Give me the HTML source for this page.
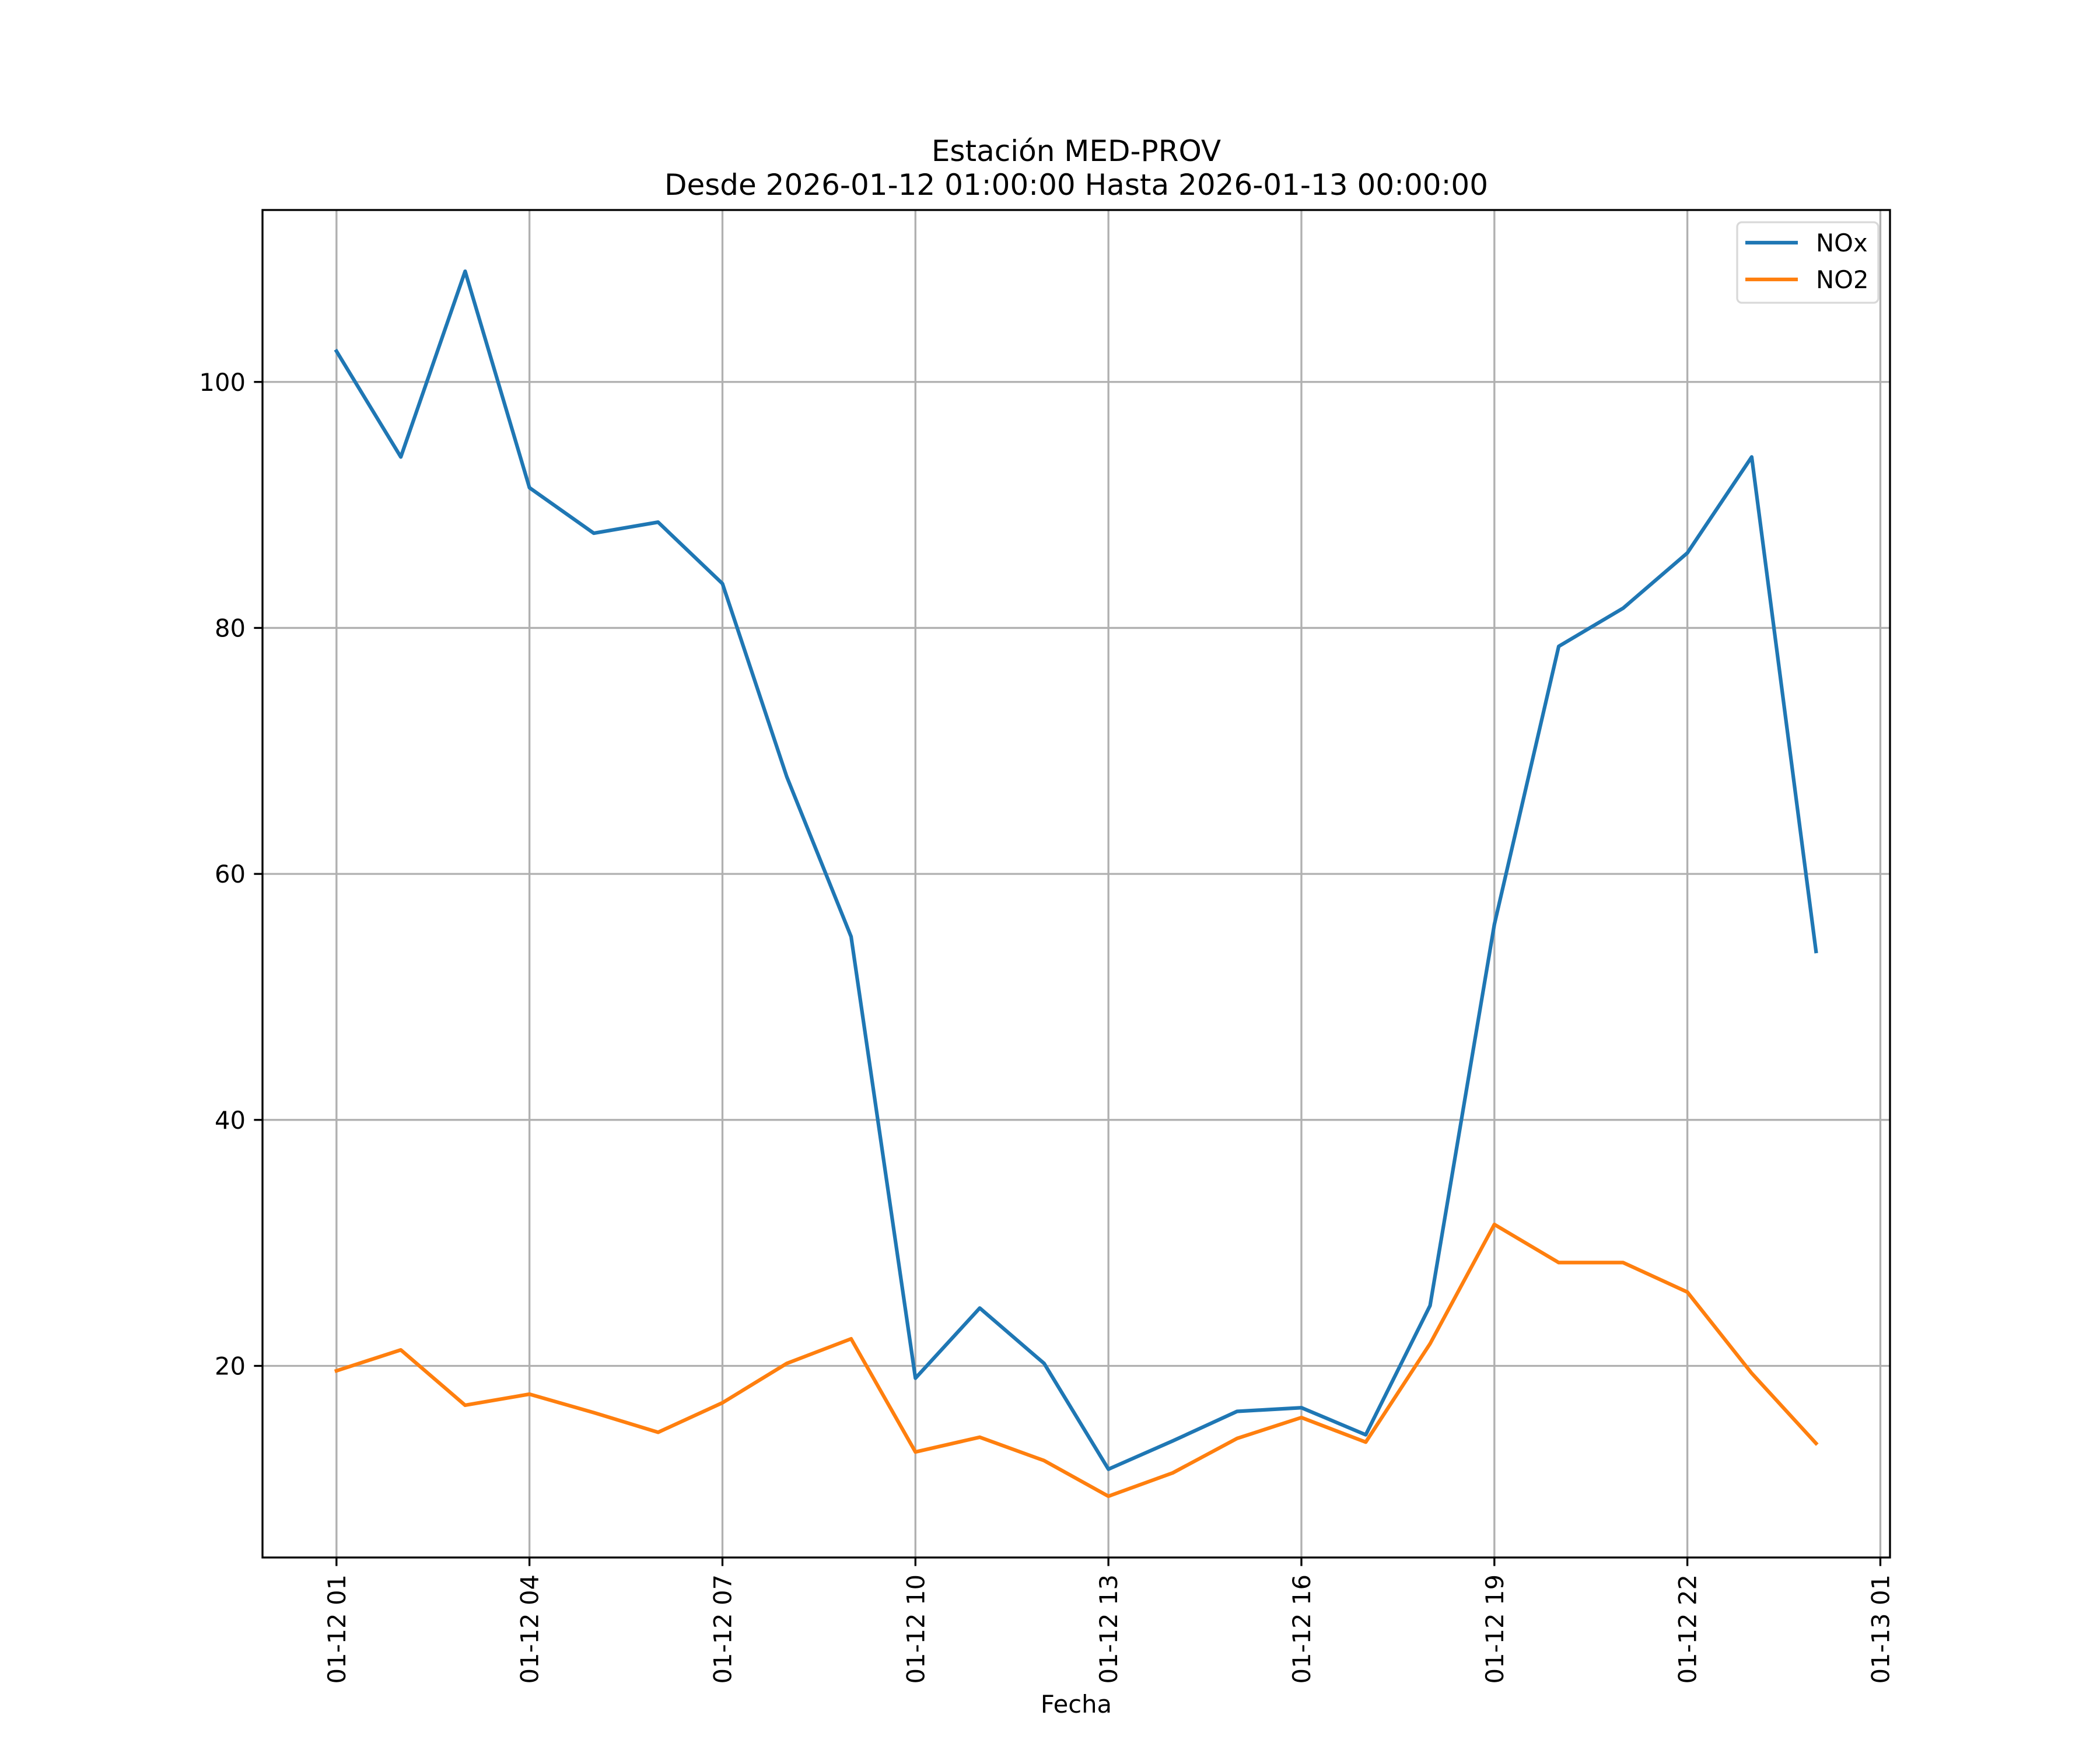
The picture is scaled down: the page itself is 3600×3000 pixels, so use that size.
<!DOCTYPE html>
<html><head><meta charset="utf-8"><style>
html,body{margin:0;padding:0;background:#fff}
svg{display:block}
text{font-family:"DejaVu Sans","Liberation Sans",sans-serif;fill:#000}
</style></head><body>
<svg id="chart" width="3600" height="3000" viewBox="0 0 3600 3000" xmlns="http://www.w3.org/2000/svg">
<rect width="3600" height="3000" fill="#fff"/>
<text x="1845" y="276" font-size="50" text-anchor="middle">Estación MED-PROV</text>
<text x="1845" y="334" font-size="50" text-anchor="middle">Desde 2026-01-12 01:00:00 Hasta 2026-01-13 00:00:00</text>
<g id="grid"></g>
<g id="series"></g>
<rect x="450" y="360" width="2790" height="2310" fill="none" stroke="#000" stroke-width="3.33"/>
<g id="ticks"></g>
<text x="1845" y="2936" font-size="41.7" text-anchor="middle">Fecha</text>
<g>
<rect x="2978" y="381" width="242" height="138" rx="8" fill="#fff" fill-opacity="0.8" stroke="#d9d9d9" stroke-width="3.3"/>
<line x1="2992" y1="416" x2="3082" y2="416" stroke="#1f77b4" stroke-width="6.25"/>
<text x="3113" y="431" font-size="41.7">NOx</text>
<line x1="2992" y1="479" x2="3082" y2="479" stroke="#ff7f0e" stroke-width="6.25"/>
<text x="3113" y="494" font-size="41.7">NO2</text>
</g>
</svg>
<script>
const hours = [1,2,3,4,5,6,7,8,9,10,11,12,13,14,15,16,17,18,19,20,21,22,23,24];
const noxValues = [102.5,93.9,109.0,91.4,87.7,88.6,83.6,67.9,54.9,19.0,24.7,20.2,11.6,13.9,16.3,16.6,14.4,24.9,55.9,78.5,81.6,86.1,93.9,53.7];
const no2Values = [19.6,21.3,16.8,17.7,16.2,14.6,17.0,20.2,22.2,13.0,14.2,12.3,9.4,11.3,14.1,15.8,13.8,21.8,31.5,28.4,28.4,26.0,19.4,13.7];
const xTickHours = [1,4,7,10,13,16,19,22,25];
const xTickLabels = ["01-12 01","01-12 04","01-12 07","01-12 10","01-12 13","01-12 16","01-12 19","01-12 22","01-13 01"];
const yTicks = [20,40,60,80,100];

const L=450,R=3240,T=360,B=2670;
const allV = noxValues.concat(no2Values);
const vmin=Math.min(...allV), vmax=Math.max(...allV);
const ymin=vmin-(vmax-vmin)*0.05, ymax=vmax+(vmax-vmin)*0.05;
const hmin=hours[0], hmax=hours[hours.length-1];
const xlo=hmin-(hmax-hmin)*0.05, xhi=hmax+(hmax-hmin)*0.05;
const X=h=>L+(h-xlo)/(xhi-xlo)*(R-L);
const Y=v=>B-(v-ymin)/(ymax-ymin)*(B-T);
const NS="http://www.w3.org/2000/svg";
function mk(tag,attrs,parent){const e=document.createElementNS(NS,tag);for(const k in attrs)e.setAttribute(k,attrs[k]);parent.appendChild(e);return e;}
const grid=document.getElementById('grid'),ticks=document.getElementById('ticks'),series=document.getElementById('series');

xTickHours.forEach((h,i)=>{
  const x=X(h);
  const g=mk('line',{x1:x,y1:T,x2:x,y2:B,stroke:'#b0b0b0','stroke-width':3.33},grid);
  
  
  const t=mk('line',{x1:x,y1:B,x2:x,y2:B+14.6,stroke:'#000','stroke-width':3.33},ticks);
  
  
  const lb=mk('text',{x:0,y:0,'font-size':41.7,'text-anchor':'end',transform:`translate(${x+15},${B+29}) rotate(-90)`},ticks);
  lb.textContent=xTickLabels[i];
  
  
});
yTicks.forEach(v=>{
  const y=Y(v);
  const g=mk('line',{x1:L,y1:y,x2:R,y2:y,stroke:'#b0b0b0','stroke-width':3.33},grid);
  
  
  const t=mk('line',{x1:L-14.6,y1:y,x2:L,y2:y,stroke:'#000','stroke-width':3.33},ticks);
  
  
  const lb=mk('text',{x:L-29,y:y+15,'font-size':41.7,'text-anchor':'end'},ticks);
  lb.textContent=String(v);
  
  
});
function line(vals,color,name){
  const p=mk('polyline',{points:vals.map((v,i)=>X(hours[i])+','+Y(v)).join(' '),fill:'none',stroke:color,'stroke-width':6.25,'stroke-linejoin':'round','stroke-linecap':'square'},series);
  
  
}
line(noxValues,'#1f77b4','nox-line');
line(no2Values,'#ff7f0e','no2-line');
</script>
</body></html>
